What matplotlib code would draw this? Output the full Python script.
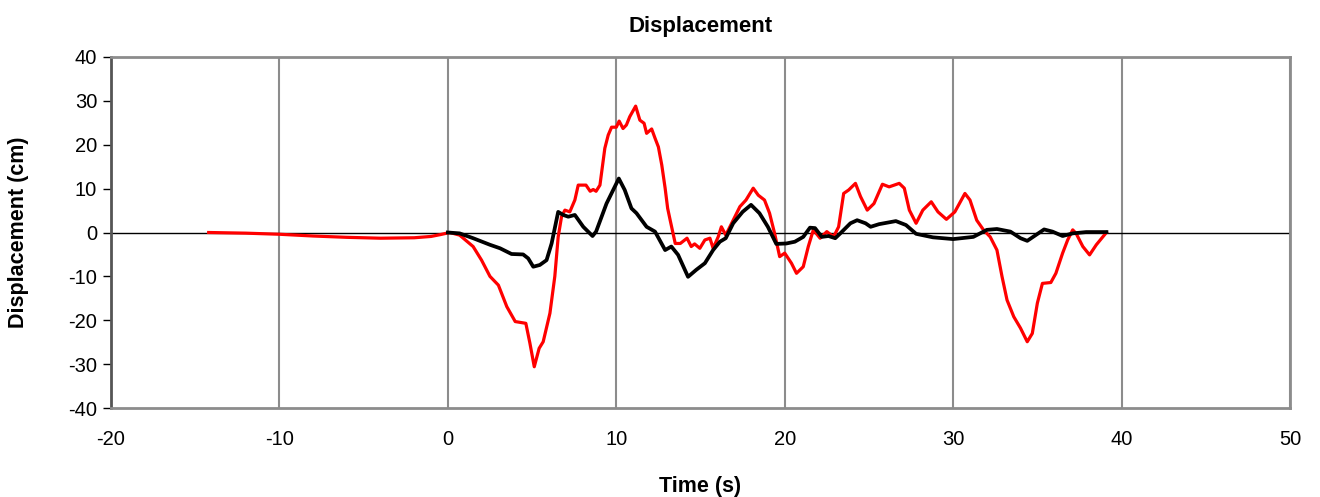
import matplotlib
matplotlib.use("Agg")
import matplotlib.pyplot as plt

plt.rcParams['font.family'] = ['Liberation Sans', 'DejaVu Sans']
plt.rcParams['axes.unicode_minus'] = False

# Red series (time s, displacement cm)
red_t = [-14.2, -12, -10, -8, -6, -4, -2, -1, -0.47, 0.12, 0.7, 1.5, 2.0, 2.5, 3.0,
         3.5, 4.0, 4.63, 4.87, 5.13, 5.42, 5.66, 6.06, 6.35, 6.55, 6.75, 6.95, 7.24,
         7.54, 7.74, 8.2, 8.45, 8.63, 8.8, 9.03, 9.32, 9.52, 9.72, 10.0, 10.17, 10.4,
         10.6, 10.8, 11.15, 11.4, 11.65, 11.8, 12.1, 12.3, 12.5, 12.7, 12.9, 13.05,
         13.2, 13.5, 13.8, 14.2, 14.45, 14.65, 14.96, 15.26, 15.56, 15.75, 16.05,
         16.24, 16.5, 16.94, 17.34, 17.7, 18.13, 18.43, 18.8, 19.1, 19.4, 19.7, 20.0,
         20.4, 20.7, 21.1, 21.4, 21.7, 22.1, 22.5, 22.9, 23.2, 23.5, 23.8, 24.2, 24.5,
         24.9, 25.3, 25.8, 26.2, 26.8, 27.1, 27.4, 27.8, 28.2, 28.7, 29.1, 29.6, 30.1,
         30.7, 31.0, 31.4, 31.8, 32.2, 32.6, 32.9, 33.2, 33.6, 34.0, 34.4, 34.7, 35.0,
         35.3, 35.8, 36.1, 36.5, 36.8, 37.1, 37.3, 37.7, 38.1, 38.5, 39.1]
red_d = [0, -0.15, -0.4, -0.8, -1.1, -1.3, -1.2, -0.9, -0.5, 0, -0.6, -3.2, -6.3, -10,
         -12, -16.9, -20.3, -20.7, -25.2, -30.6, -26.4, -24.9, -18.4, -10, -1, 3.6,
         5.1, 4.7, 7.4, 10.8, 10.8, 9.4, 9.8, 9.4, 10.8, 19.2, 22.2, 24.0, 24.0, 25.4,
         23.7, 24.5, 26.4, 28.8, 25.6, 24.9, 22.6, 23.6, 21.5, 19.5, 15.4, 10.1, 5.5,
         2.8, -2.5, -2.5, -1.3, -3.2, -2.6, -3.6, -1.7, -1.3, -3.6, -1.0, 1.3, -0.6,
         2.8, 5.9, 7.4, 10.1, 8.5, 7.4, 4.4, -0.2, -5.5, -4.7, -7.0, -9.3, -7.8, -3.2,
         0.6, -1.3, 0.2, -1.0, 1.3, 8.9, 9.7, 11.2, 8.2, 5.1, 6.6, 11.0, 10.4, 11.2,
         10.1, 5.1, 2.1, 5.1, 7.0, 4.7, 3.0, 4.7, 8.9, 7.4, 2.8, 0.6, -1.0, -4.0, -10.0,
         -15.4, -19.2, -21.8, -24.9, -23.0, -16.1, -11.6, -11.4, -9.3, -4.7, -1.7, 0.6,
         -0.2, -3.2, -5.1, -2.8, 0]

# Black series
blk_t = [0, 0.7, 1.5, 2.5, 3.1, 3.78, 4.47, 4.77, 5.07, 5.46, 5.86, 6.16, 6.55, 6.85,
         7.15, 7.54, 8.04, 8.59, 8.8, 9.42, 10.15, 10.5, 10.9, 11.2, 11.8, 12.3, 12.9,
         13.27, 13.67, 14.26, 14.75, 15.26, 15.75, 16.15, 16.5, 16.94, 17.5, 18.0,
         18.5, 19.0, 19.5, 20.1, 20.6, 21.1, 21.5, 21.8, 22.2, 22.6, 23.0, 23.3, 23.9,
         24.3, 24.8, 25.1, 25.6, 26.6, 27.2, 27.8, 28.8, 30.0, 31.2, 32.0, 32.6, 33.4,
         34.0, 34.4, 34.9, 35.4, 35.9, 36.5, 37.1, 37.9, 39.1]
blk_d = [0, -0.2, -1.3, -2.8, -3.6, -4.9, -5.0, -5.9, -7.8, -7.4, -6.3, -2.5, 4.7, 4.0,
         3.6, 4.0, 1.3, -0.8, 0.2, 6.6, 12.3, 9.7, 5.5, 4.4, 1.3, 0.2, -4.0, -3.2, -5.1,
         -10.1, -8.5, -7.0, -4.0, -2.1, -1.3, 2.1, 4.7, 6.3, 4.4, 1.3, -2.6, -2.5, -2.1,
         -1.0, 1.1, 1.0, -1.0, -0.8, -1.3, -0.2, 2.1, 2.8, 2.1, 1.3, 1.9, 2.6, 1.7, -0.3,
         -1.1, -1.5, -1.0, 0.6, 0.8, 0.2, -1.3, -1.9, -0.6, 0.7, 0.2, -0.8, -0.2, 0.1, 0.1]

x_ticks = [-20, -10, 0, 10, 20, 30, 40, 50]
y_ticks = [-40, -30, -20, -10, 0, 10, 20, 30, 40]

fig = plt.figure(figsize=(13.2, 4.97), dpi=100)
ax = fig.add_axes([111/1320, 1-408/497, (1290-111)/1320, (408-57)/497])

ax.set_xlim(-20, 50)
ax.set_ylim(-40, 40)
ax.set_xticks(x_ticks)
ax.set_yticks(y_ticks)
ax.grid(axis='x', color='#8c8c8c', linewidth=1.5)
ax.set_axisbelow(True)
ax.axhline(0, color='black', linewidth=1.0, zorder=2)

ax.plot(red_t, red_d, color='#ff0000', linewidth=2.3, zorder=3, solid_joinstyle='round')
ax.plot(blk_t, blk_d, color='black', linewidth=2.7, zorder=4, solid_joinstyle='round')

for s in ['top', 'right', 'bottom']:
    ax.spines[s].set_color('#8c8c8c')
    ax.spines[s].set_linewidth(2)
ax.spines['left'].set_color('#555555')
ax.spines['left'].set_linewidth(2)

ax.tick_params(axis='y', direction='out', length=6, width=1, color='black',
               labelsize=14.5, pad=4)
ax.tick_params(axis='x', length=0, labelsize=14.5, pad=16)

ax.set_title('Displacement', fontsize=16, fontweight='bold', pad=18)
ax.set_xlabel('Time (s)', fontsize=15.5, fontweight='bold', labelpad=19)
ax.set_ylabel('Displacement (cm)', fontsize=15.5, fontweight='bold', labelpad=28)

fig.savefig('out.png', dpi=100)
